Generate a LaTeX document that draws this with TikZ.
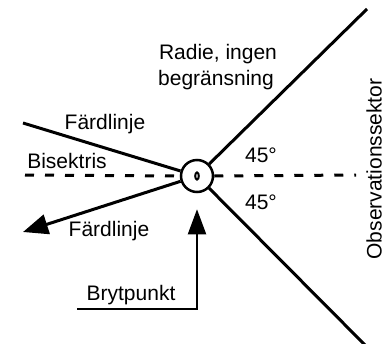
\documentclass[tikz,border=0pt]{standalone}
\usepackage{fontspec}
\setmainfont{Liberation Sans}
\usetikzlibrary{arrows.meta}
\begin{document}
\begin{tikzpicture}[x=1pt,y=-1pt,
  lbl/.style={font=\fontsize{21}{24}\selectfont, inner sep=0pt},
  solidline/.style={line width=3pt},
  dashline/.style={line width=3pt, dash pattern=on 9pt off 11pt}]
\useasboundingbox (0,0) rectangle (387,343);
\node[circle, draw, line width=2.5pt, minimum size=32pt, inner sep=0pt] (c) at (197,176) {};
\draw[line width=2pt] (c.center) ellipse [x radius=1.8pt, y radius=3.6pt];
\coordinate (ur) at (367,9);
\coordinate (lr) at (365,345);
\coordinate (ul) at (23,123);
\coordinate (ll) at (23,232);
\coordinate (dl) at (25,175);
\coordinate (dr) at (356,175);
\coordinate (bl) at (77,309);
\coordinate (bc) at (197,309);
\draw[solidline] (c) -- (ur);
\draw[solidline] (c) -- (lr);
\draw[solidline] (c) -- (ul);
\draw[solidline, -{Triangle[length=25pt,width=20pt]}] (c) -- (ll);
\draw[dashline] (dl) -- (c.west);
\draw[dashline] (c.east) -- (dr);
\draw[line width=2pt, shorten >=16pt, -{Triangle[length=25pt,width=18pt]}] (bl) -- (bc) -- (c.south);
\node[lbl] (t1) at (218,54) {Radie, ingen};
\node[lbl] (t2) at (216,80) {begränsning};
\node[lbl] (f1) at (105,124) {Färdlinje};
\node[lbl] (bi) at (67,161) {Bisektris};
\node[lbl] (f2) at (109,231) {Färdlinje};
\node[lbl] (a1) at (261,155) {45°};
\node[lbl] (a2) at (261,202) {45°};
\node[lbl] (br) at (131,295) {Brytpunkt};
\node[lbl, rotate=90] (ob) at (374,169) {Observationssektor};
\end{tikzpicture}
\end{document}
